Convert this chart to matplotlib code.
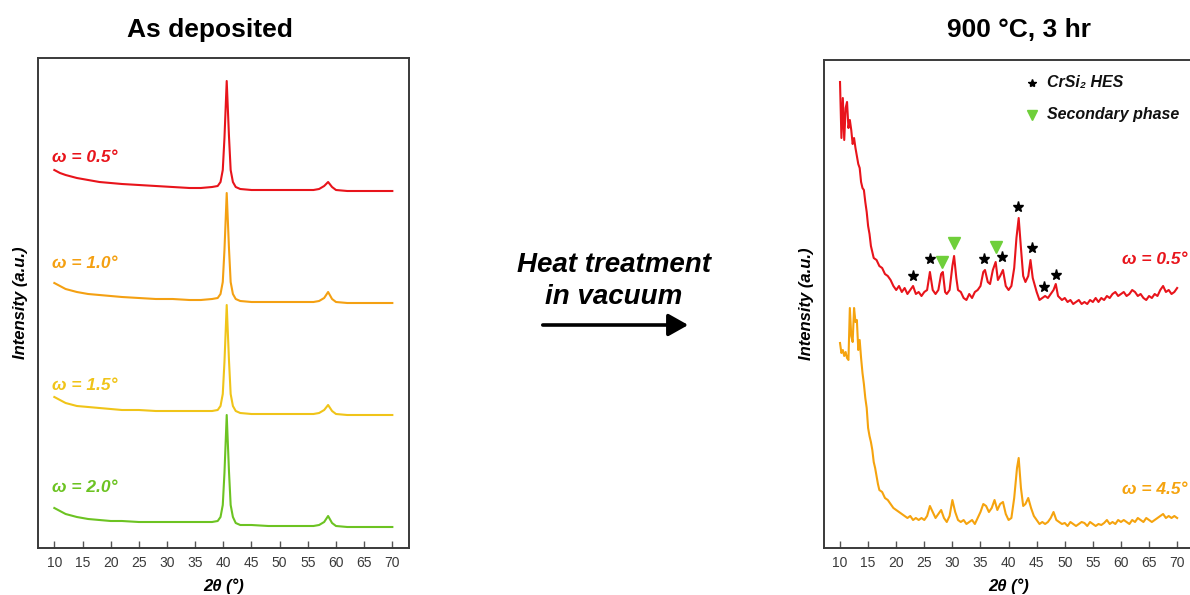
import numpy as np
import matplotlib
matplotlib.use("Agg")
import matplotlib.pyplot as plt

FONT = ["Liberation Sans", "DejaVu Sans"]
plt.rcParams["font.family"] = FONT

# ---------------- As-deposited patterns (2theta, intensity a.u.) ----------------
tt_dep = [10, 11, 12, 14, 16, 18, 20, 22, 25, 28, 31, 34, 36, 38, 39, 39.5, 39.9,
          40.2, 40.6, 41.0, 41.3, 41.7, 42.2, 43, 45, 48, 51, 54, 56, 57, 57.9, 58.6,
          59.3, 60, 62, 65, 68, 70]
dep_w05 = [378, 375, 373, 370, 368, 366, 365, 364, 363, 362, 361, 360, 360, 361, 362,
           366, 378, 410, 467, 412, 378, 366, 361, 359, 358, 358, 358, 358, 358, 359,
           362, 366, 361, 358, 357, 357, 357, 357]
dep_w10 = [265, 262, 259, 256, 254, 253, 252, 251, 250, 249, 249, 248, 248, 249, 250,
           254, 266, 298, 355, 300, 266, 254, 249, 247, 246, 246, 246, 246, 246, 247,
           250, 256, 249, 246, 245, 245, 245, 245]
dep_w15 = [151, 148, 145, 142, 141, 140, 139, 138, 138, 137, 137, 137, 137, 137, 138,
           142, 154, 186, 243, 188, 154, 142, 137, 135, 134, 134, 134, 134, 134, 135,
           138, 143, 137, 134, 133, 133, 133, 133]
dep_w20 = [40, 37, 34, 31, 29, 28, 27, 27, 26, 26, 26, 26, 26, 26, 27,
           31, 43, 75, 133, 77, 43, 31, 25, 23, 23, 22, 22, 22, 22, 23,
           26, 32, 25, 22, 21, 21, 21, 21]
dep_labels = ["ω = 0.5°", "ω = 1.0°", "ω = 1.5°", "ω = 2.0°"]
dep_label_y = [391, 285, 163, 60]

# ---------------- After 900 °C, 3 hr ----------------
tt_ann_05 = [10.0, 10.25, 10.5, 10.75, 11.0, 11.25, 11.5, 11.75, 12.0, 12.25, 12.5, 12.75,
             13.0, 13.25, 13.5, 13.75, 14.0, 14.25, 14.5, 14.75, 15.0, 15.25, 15.5, 15.75,
             16.0, 16.5, 17.0, 17.5, 18.0, 18.5, 19.0, 19.5, 20.0, 20.5, 21.0, 21.5, 22.0,
             22.5, 23.0, 23.5, 24.0, 24.5, 25.0, 25.5, 26.0, 26.5, 27.0, 27.5, 28.0, 28.3,
             28.7, 29.0, 29.5, 30.0, 30.3, 30.7, 31.0, 31.5, 32.0, 32.5, 33.0, 33.5, 34.0,
             34.5, 35.0, 35.5, 35.8, 36.3, 36.7, 37.2, 37.7, 38.1, 38.5, 39.0, 39.5, 40.0,
             40.5, 41.0, 41.4, 41.8, 42.2, 42.6, 43.0, 43.5, 43.9, 44.3, 44.7, 45.0, 45.5,
             46.0, 46.5, 47.0, 47.5, 48.0, 48.4, 48.8, 49.5, 50.0, 50.5, 51.0, 51.5, 52.0,
             52.5, 53.0, 53.5, 54.0, 54.5, 55.0, 55.5, 56.0, 56.5, 57.0, 57.5, 58.0, 58.5,
             59.0, 59.5, 60.0, 60.5, 61.0, 61.5, 62.0, 62.5, 63.0, 63.5, 64.0, 64.5, 65.0,
             65.5, 66.0, 66.5, 67.0, 67.5, 68.0, 68.5, 69.0, 69.5, 70.0]
ann_w05 = [466, 410, 450, 408, 440, 446, 420, 428, 418, 404, 410, 400,
           392, 384, 380, 366, 360, 358, 346, 336, 322, 314, 302, 296,
           290, 288, 282, 280, 274, 272, 268, 262, 258, 262, 256, 260, 254,
           258, 262, 254, 256, 252, 256, 258, 276, 258, 254, 258, 274, 276,
           256, 254, 258, 282, 292, 270, 258, 256, 250, 248, 254, 250, 256,
           258, 262, 276, 278, 266, 264, 278, 286, 268, 272, 278, 262, 258,
           262, 280, 310, 330, 300, 272, 266, 272, 288, 270, 262, 256, 248,
           250, 252, 250, 254, 258, 264, 252, 248, 250, 246, 248, 244, 246,
           248, 244, 246, 244, 248, 246, 250, 246, 250, 248, 252, 250, 254,
           256, 252, 254, 256, 252, 254, 258, 256, 252, 254, 250, 248, 252,
           250, 254, 252, 258, 262, 256, 258, 254, 256, 260]

tt_ann_45 = [10.0, 10.25, 10.5, 10.75, 11.0, 11.25, 11.5, 11.75, 12.0, 12.25, 12.5, 12.75,
             13.0, 13.25, 13.5, 13.75, 14.0, 14.25, 14.5, 14.75, 15.0, 15.25, 15.5, 15.75,
             16.0, 16.25, 16.5, 16.75, 17.0, 17.5, 18.0, 18.5, 19.0, 19.5, 20.0, 20.5, 21.0,
             21.5, 22.0, 22.5, 23.0, 23.5, 24.0, 24.5, 25.0, 25.5, 26.0, 26.5, 27.0, 27.5,
             28.0, 28.5, 29.0, 29.5, 30.0, 30.5, 31.0, 31.5, 32.0, 32.5, 33.0, 33.5, 34.0,
             34.5, 35.0, 35.5, 36.0, 36.5, 37.0, 37.5, 38.0, 38.5, 39.0, 39.5, 40.0, 40.5,
             41.0, 41.5, 41.8, 42.2, 42.6, 43.0, 43.5, 44.0, 44.5, 45.0, 45.5, 46.0, 46.5,
             47.0, 47.5, 48.0, 48.5, 49.0, 49.5, 50.0, 50.5, 51.0, 51.5, 52.0, 52.5, 53.0,
             53.5, 54.0, 54.5, 55.0, 55.5, 56.0, 56.5, 57.0, 57.5, 58.0, 58.5, 59.0, 59.5,
             60.0, 60.5, 61.0, 61.5, 62.0, 62.5, 63.0, 63.5, 64.0, 64.5, 65.0, 65.5, 66.0,
             66.5, 67.0, 67.5, 68.0, 68.5, 69.0, 69.5, 70.0]
ann_w45 = [205, 195, 198, 192, 196, 190, 188, 240, 212, 206, 240, 226,
           228, 198, 208, 190, 175, 164, 150, 140, 120, 112, 106, 98,
           86, 80, 72, 64, 58, 56, 50, 48, 44, 40, 38, 36, 34,
           32, 30, 32, 28, 30, 28, 30, 28, 32, 42, 36, 30, 34,
           38, 30, 26, 32, 48, 36, 28, 26, 28, 24, 26, 28, 24,
           30, 36, 44, 42, 36, 40, 48, 38, 44, 46, 34, 28, 30,
           50, 80, 90, 60, 42, 44, 50, 40, 32, 28, 24, 26, 24,
           26, 30, 36, 28, 26, 24, 25, 22, 26, 24, 22, 24, 26,
           25, 22, 26, 24, 22, 24, 23, 25, 28, 24, 26, 24, 28,
           26, 28, 26, 24, 28, 26, 30, 28, 26, 30, 28, 26, 28,
           30, 32, 34, 30, 32, 30, 32, 30]

# phase markers on the omega = 0.5 deg pattern
hes_tt = [23.0, 26.1, 35.7, 38.9, 41.7, 44.1, 46.3, 48.4]
hes_y = [272, 289, 289, 291, 341, 300, 261, 273]
sec_tt = [28.2, 30.3, 37.7]
sec_y = [286, 305, 301]

RED = "#e8141b"
ORANGE = "#f4a012"
YELLOW = "#f0c419"
GREEN = "#6cc322"
ORANGE_R = "#f5a30e"
TRI = "#6fcf3a"
SPINE = "#3a3a3a"

fig = plt.figure(figsize=(11.9, 5.95), dpi=100)

ax1 = fig.add_axes([38 / 1190, 47 / 595, 371 / 1190, 490 / 595])
ax2 = fig.add_axes([824 / 1190, 47 / 595, 370 / 1190, 488 / 595])


def style_axis(ax):
    ax.set_yticks([])
    ax.set_xticks(np.arange(10, 71, 5))
    ax.tick_params(axis="x", direction="in", length=5, width=1.0, color="#555555",
                   labelsize=10, labelcolor="#3a3a3a", pad=6)
    for s in ax.spines.values():
        s.set_color(SPINE)
        s.set_linewidth(1.4)
    ax.set_xlabel("2θ (°)", fontsize=12, fontweight="bold", fontstyle="italic", labelpad=6)
    ax.set_ylabel("Intensity (a.u.)", fontsize=12, fontweight="bold", fontstyle="italic",
                  labelpad=7)


# left panel
for y, c, lab, ly in zip([dep_w05, dep_w10, dep_w15, dep_w20],
                         [RED, ORANGE, YELLOW, GREEN], dep_labels, dep_label_y):
    ax1.plot(tt_dep, y, color=c, lw=1.5)
    ax1.text(9.6, ly, lab, color=c, fontsize=12.5, fontweight="bold",
             fontstyle="italic", ha="left", va="center")
ax1.set_xlim(7.1, 72.96)
ax1.set_ylim(0, 490)
style_axis(ax1)

# right panel
ax2.plot(tt_ann_05, ann_w05, color=RED, lw=1.5)
ax2.plot(tt_ann_45, ann_w45, color=ORANGE_R, lw=1.5)
ax2.plot(hes_tt, hes_y, ls="none", marker="*", ms=8, color="black")
ax2.plot(sec_tt, sec_y, ls="none", marker="v", ms=9, color=TRI)
ax2.text(71.8, 288, "ω = 0.5°", color=RED, fontsize=12.5, fontweight="bold",
         fontstyle="italic", ha="right", va="center")
ax2.text(71.8, 59, "ω = 4.5°", color=ORANGE_R, fontsize=12.5, fontweight="bold",
         fontstyle="italic", ha="right", va="center")
# phase key
ax2.plot([44.2], [465], ls="none", marker="*", ms=6, color="black")
ax2.plot([44.2], [433], ls="none", marker="v", ms=7, color=TRI)
ax2.text(46.9, 465, "CrSi₂ HES", fontsize=11.5, fontweight="bold", fontstyle="italic",
         ha="left", va="center", color="#111111")
ax2.text(46.9, 433, "Secondary phase", fontsize=11.5, fontweight="bold",
         fontstyle="italic", ha="left", va="center", color="#111111")
ax2.set_xlim(7.15, 73.0)
ax2.set_ylim(0, 488)
style_axis(ax2)

# titles
fig.text(210 / 1190, 1 - 30 / 595, "As deposited", fontsize=19, fontweight="bold",
         ha="center", va="center")
fig.text(1019 / 1190, 1 - 30 / 595, "900 °C, 3 hr", fontsize=19, fontweight="bold",
         ha="center", va="center")

# process arrow
fig.text(614 / 1190, 1 - 281 / 595, "Heat treatment\nin vacuum", fontsize=20,
         fontweight="bold", fontstyle="italic", ha="center", va="center",
         linespacing=1.35)
fig.add_artist(matplotlib.patches.FancyArrowPatch(
    (540 / 1190, 1 - 325 / 595), (691 / 1190, 1 - 325 / 595),
    transform=fig.transFigure, arrowstyle="-|>,head_length=8,head_width=4.5",
    mutation_scale=1.5, lw=2.6, color="black"))

fig.savefig("out.png", dpi=100)
